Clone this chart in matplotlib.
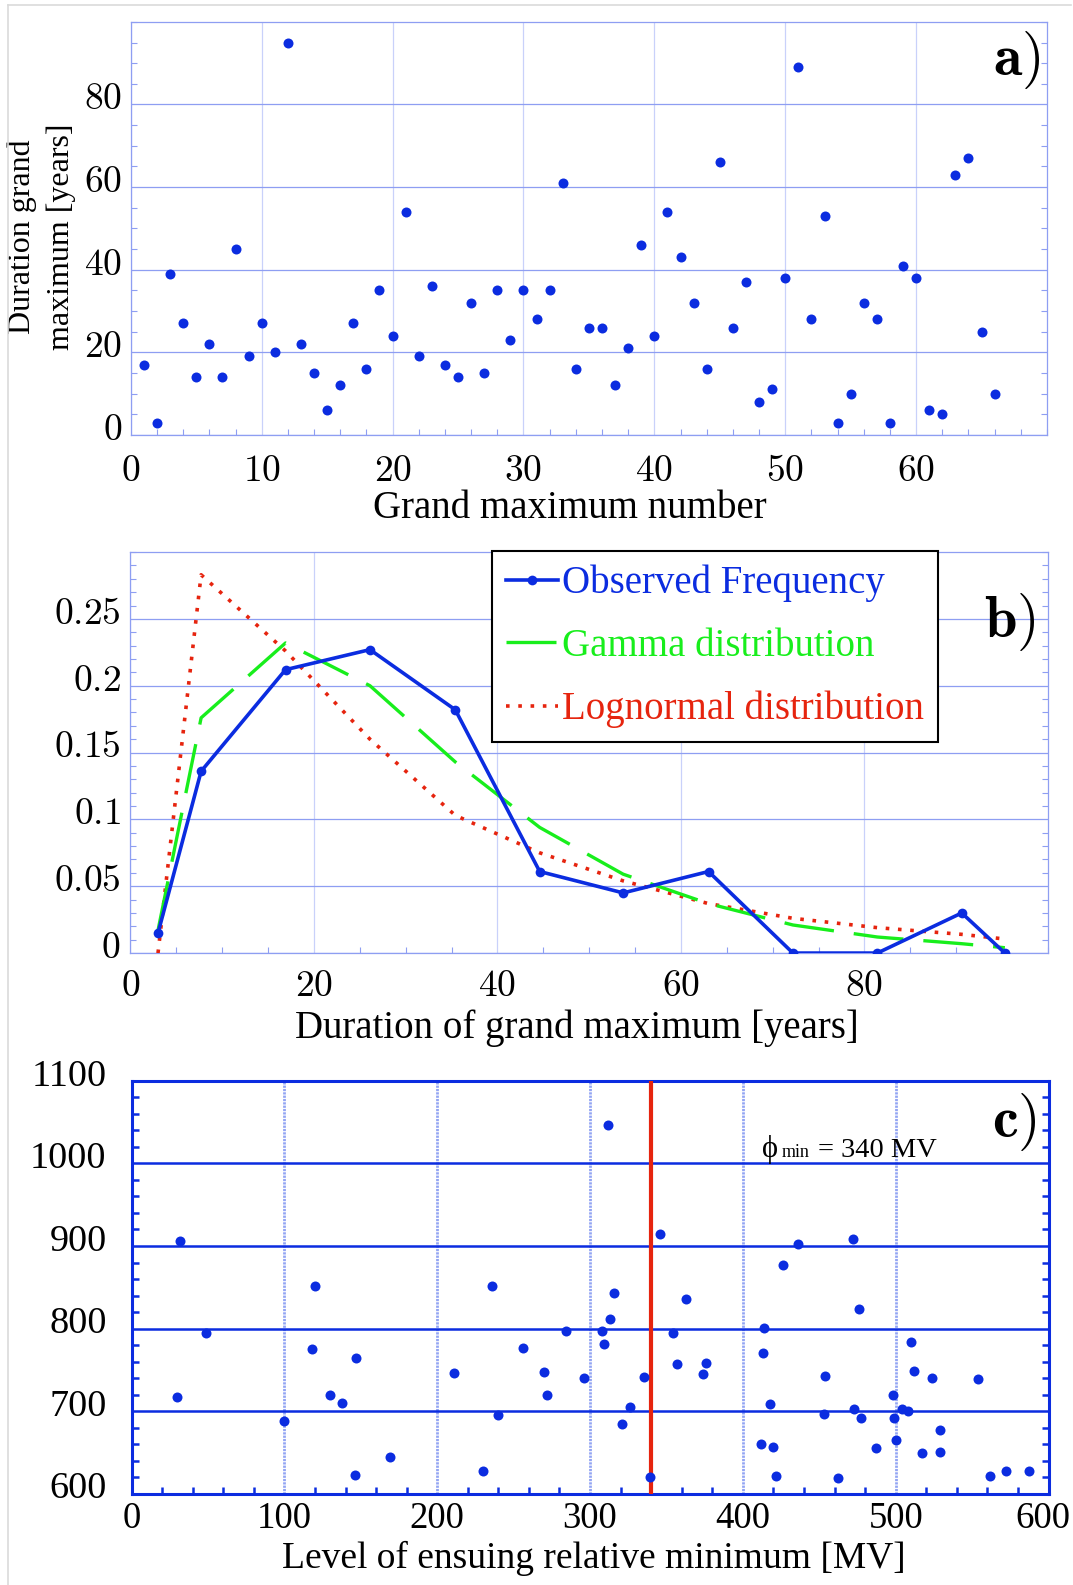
import matplotlib
matplotlib.use("Agg")
import matplotlib.pyplot as plt
from matplotlib.ticker import MultipleLocator
from matplotlib.transforms import ScaledTranslation
from matplotlib.lines import Line2D

# --- (a) duration of each grand maximum ---
gm_number = list(range(1, 67))
gm_duration = [17, 3, 39, 27, 14, 22, 14, 45, 19, 27, 20, 95, 22, 15, 6, 12, 27, 16, 35, 24,
               54, 19, 36, 17, 14, 32, 15, 35, 23, 35, 28, 35, 61, 16, 26, 26, 12, 21, 46, 24,
               54, 43, 32, 16, 66, 26, 37, 8, 11, 38, 89, 28, 53, 3, 10, 32, 28, 3, 41, 38,
               6, 5, 63, 67, 25, 10]

# --- (b) duration histogram and fitted distributions ---
dur_bins = [3.0, 7.7, 16.9, 26.1, 35.4, 44.6, 53.7, 63.0, 72.2, 81.4, 90.6, 95.3]
obs_freq = [0.015, 0.136, 0.212, 0.227, 0.182, 0.061, 0.045, 0.061, 0.0, 0.0, 0.030, 0.0]
gamma_pdf = [0.017, 0.176, 0.232, 0.200, 0.143, 0.094, 0.059, 0.037, 0.021, 0.012, 0.007, 0.004]
lognorm_pdf = [0.0, 0.283, 0.226, 0.160, 0.103, 0.075, 0.054, 0.037, 0.026, 0.019, 0.014, 0.0105]

# --- (c) level of the following relative minimum ---
min_level = [32, 49, 30, 118, 120, 147, 130, 138, 100, 146, 169, 211, 236, 240, 230, 256,
             312, 270, 272, 284, 296, 308, 309, 313, 316, 321, 326, 335, 339, 346, 354, 357,
             363, 374, 376, 412, 413, 414, 418, 420, 422, 426, 436, 454, 453, 462, 472, 476,
             473, 477, 487, 498, 499, 500, 504, 508, 510, 512, 517, 524, 529, 529, 554, 562,
             572, 587]
gm_level = [906, 794, 717, 775, 852, 764, 719, 710, 688, 622, 644, 746, 852, 695, 627, 776,
            1047, 747, 719, 797, 740, 797, 781, 812, 843, 684, 705, 741, 620, 915, 795, 757,
            836, 745, 758, 660, 770, 801, 709, 657, 621, 877, 903, 743, 697, 619, 909, 824,
            702, 692, 655, 720, 692, 665, 703, 700, 784, 749, 649, 740, 677, 650, 739, 621,
            627, 627]
phi_min = 340

a_xticks = [0, 10, 20, 30, 40, 50, 60]
a_yticks = [0, 20, 40, 60, 80]
b_xticks = [0, 20, 40, 60, 80]
b_yticks = [0, 0.05, 0.1, 0.15, 0.2, 0.25]
b_ylabels = ["0", "0.05", "0.1", "0.15", "0.2", "0.25"]
c_xticks = [0, 100, 200, 300, 400, 500, 600]
c_yticks = [600, 700, 800, 900, 1000, 1100]

BLUE = "#0b2ce0"
GREEN = "#18ee1c"
RED = "#e6240e"
PALE = "#8e9ef2"
PALER = "#c9d1fa"
SERIF = ["Liberation Serif", "DejaVu Serif"]

plt.rcParams["font.family"] = SERIF
plt.rcParams["mathtext.fontset"] = "cm"

fig = plt.figure(figsize=(10.73, 15.85), dpi=100)
fig.patch.set_facecolor("white")

# thin grey border on the left and top
fig.add_artist(Line2D([0.0078, 0.0078], [0, 0.9968], transform=fig.transFigure,
                      color="#dadada", lw=1.2))
fig.add_artist(Line2D([0.0078, 0.998], [0.9968, 0.9968], transform=fig.transFigure,
                      color="#dadada", lw=1.2))

lift = ScaledTranslation(0, 6 / 72, fig.dpi_scale_trans)


def cm(labels):
    return ["$%s$" % s for s in labels]


def light_frame(ax):
    for sp in ax.spines.values():
        sp.set_color(PALE)
        sp.set_linewidth(0.9)
    ax.tick_params(which="both", direction="in", color=PALE, left=True, right=True,
                   top=False, bottom=True, width=0.8)
    ax.tick_params(which="major", length=0)
    ax.tick_params(which="minor", length=4.5)
    ax.grid(True, axis="y", which="major", color=PALE, lw=0.9)
    ax.grid(True, axis="x", which="major", color=PALER, lw=0.9)
    ax.set_axisbelow(True)


# ---------------- (a) ----------------
ax1 = fig.add_axes([0.1219, 0.7256, 0.8539, 0.2606])
ax1.plot(gm_number, gm_duration, "o", color=BLUE, ms=7.2, mec="none")
ax1.set_xlim(0, 70)
ax1.set_ylim(0, 100)
ax1.xaxis.set_minor_locator(MultipleLocator(2))
ax1.yaxis.set_minor_locator(MultipleLocator(5))
ax1.set_xticks(a_xticks, labels=cm([str(v) for v in a_xticks]), fontsize=27)
ax1.set_yticks(a_yticks, labels=cm([str(v) for v in a_yticks]), fontsize=27)
light_frame(ax1)
ax1.tick_params(axis="x", which="major", pad=14)
ax1.tick_params(axis="y", which="major", pad=6)
for lab in ax1.get_yticklabels():
    lab.set_transform(lab.get_transform() + lift)
ax1.set_xlabel("Grand maximum number", fontsize=28, va="center")
ax1.xaxis.set_label_coords(0.4794, -0.177)
ax1.set_ylabel("Duration grand\nmaximum [years]", fontsize=23, va="center",
               linespacing=1.45)
ax1.yaxis.set_label_coords(-0.097, 0.479)
ax1.text(0.9924, 0.981, r"$\mathbf{a)}$", transform=ax1.transAxes, ha="right",
         va="top", fontsize=42)

# ---------------- (b) ----------------
ax2 = fig.add_axes([0.1216, 0.3987, 0.8551, 0.2530])
ax2.plot(dur_bins, lognorm_pdf, color=RED, lw=2.6, ls=(0, (1.0, 2.4)),
         label="Lognormal distribution", zorder=3)
ax2.plot(dur_bins, gamma_pdf, color=GREEN, lw=2.4, ls=(0, (15, 6)),
         label="Gamma distribution", zorder=3)
ax2.plot(dur_bins, obs_freq, "-o", color=BLUE, lw=2.6, ms=7, mec="none",
         label="Observed Frequency", zorder=4)
ax2.set_xlim(0, 100)
ax2.set_ylim(0, 0.3)
ax2.xaxis.set_minor_locator(MultipleLocator(5))
ax2.yaxis.set_minor_locator(MultipleLocator(0.01))
ax2.set_xticks(b_xticks, labels=cm([str(v) for v in b_xticks]), fontsize=27)
ax2.set_yticks(b_yticks, labels=cm(b_ylabels), fontsize=27)
light_frame(ax2)
ax2.tick_params(axis="x", which="major", pad=12)
ax2.tick_params(axis="y", which="major", pad=7)
for lab in ax2.get_yticklabels():
    lab.set_transform(lab.get_transform() + lift)
ax2.set_xlabel("Duration of grand maximum [years]", fontsize=28, va="center")
ax2.xaxis.set_label_coords(0.4866, -0.187)
handles, labels = ax2.get_legend_handles_labels()
leg = ax2.legend(handles[::-1], labels[::-1], loc="upper left",
                 bbox_to_anchor=(0.394, 1.003), fontsize=28, labelcolor="linecolor",
                 handlelength=1.35, handletextpad=0.1, labelspacing=0.66,
                 borderpad=0.36, borderaxespad=0, fancybox=False, framealpha=1,
                 edgecolor="black", numpoints=1)
leg.get_frame().set_linewidth(1.5)
ax2.text(0.9864, 0.901, r"$\mathbf{b)}$", transform=ax2.transAxes, ha="right",
         va="top", fontsize=42)

# ---------------- (c) ----------------
ax3 = fig.add_axes([0.1226, 0.0577, 0.8546, 0.2603])
ax3.plot(min_level, gm_level, "o", color=BLUE, ms=7.2, mec="none", zorder=4)
ax3.axvline(phi_min, color=RED, lw=3.0, zorder=3)
ax3.set_xlim(0, 600)
ax3.set_ylim(600, 1100)
ax3.xaxis.set_minor_locator(MultipleLocator(20))
ax3.yaxis.set_minor_locator(MultipleLocator(20))
ax3.set_xticks(c_xticks, labels=[str(v) for v in c_xticks], fontsize=26.5)
ax3.set_yticks(c_yticks, labels=[str(v) for v in c_yticks], fontsize=27.5)
for sp in ax3.spines.values():
    sp.set_color(BLUE)
    sp.set_linewidth(2.2)
ax3.tick_params(which="both", direction="in", color=BLUE, left=True, right=True,
                top=False, bottom=True, width=1.8)
ax3.tick_params(which="major", length=0)
ax3.tick_params(which="minor", length=5)
ax3.tick_params(axis="x", which="major", pad=6)
ax3.tick_params(axis="y", which="major", pad=18)
for lab in ax3.get_yticklabels():
    lab.set_transform(lab.get_transform() + lift)
# keep the last x label inside the figure edge
last = ax3.get_xticklabels()[-1]
last.set_transform(last.get_transform()
                   + ScaledTranslation(-4 / 72, 0, fig.dpi_scale_trans))
ax3.grid(True, axis="y", which="major", color=BLUE, lw=1.8)
ax3.grid(True, axis="x", which="major", color="#93a5f3", lw=2.0, ls=(0, (0.8, 0.4)))
ax3.set_axisbelow(True)
ax3.set_xlabel("Level of ensuing relative minimum [MV]", fontsize=27, va="center")
ax3.xaxis.set_label_coords(0.5044, -0.1564)
ax3.text(0.6876, 0.8158, "\u03d5", transform=ax3.transAxes, ha="left",
         va="baseline", fontsize=22, family=SERIF)
ax3.text(0.709, 0.8158, "min", transform=ax3.transAxes, ha="left", va="baseline",
         fontsize=13)
ax3.text(0.7486, 0.8158, "= %d MV" % phi_min, transform=ax3.transAxes, ha="left",
         va="baseline", fontsize=20.5)
ax3.text(0.9875, 0.9733, r"$\mathbf{c)}$", transform=ax3.transAxes, ha="right",
         va="top", fontsize=42)

fig.savefig("out.png", dpi=100, facecolor="white")
